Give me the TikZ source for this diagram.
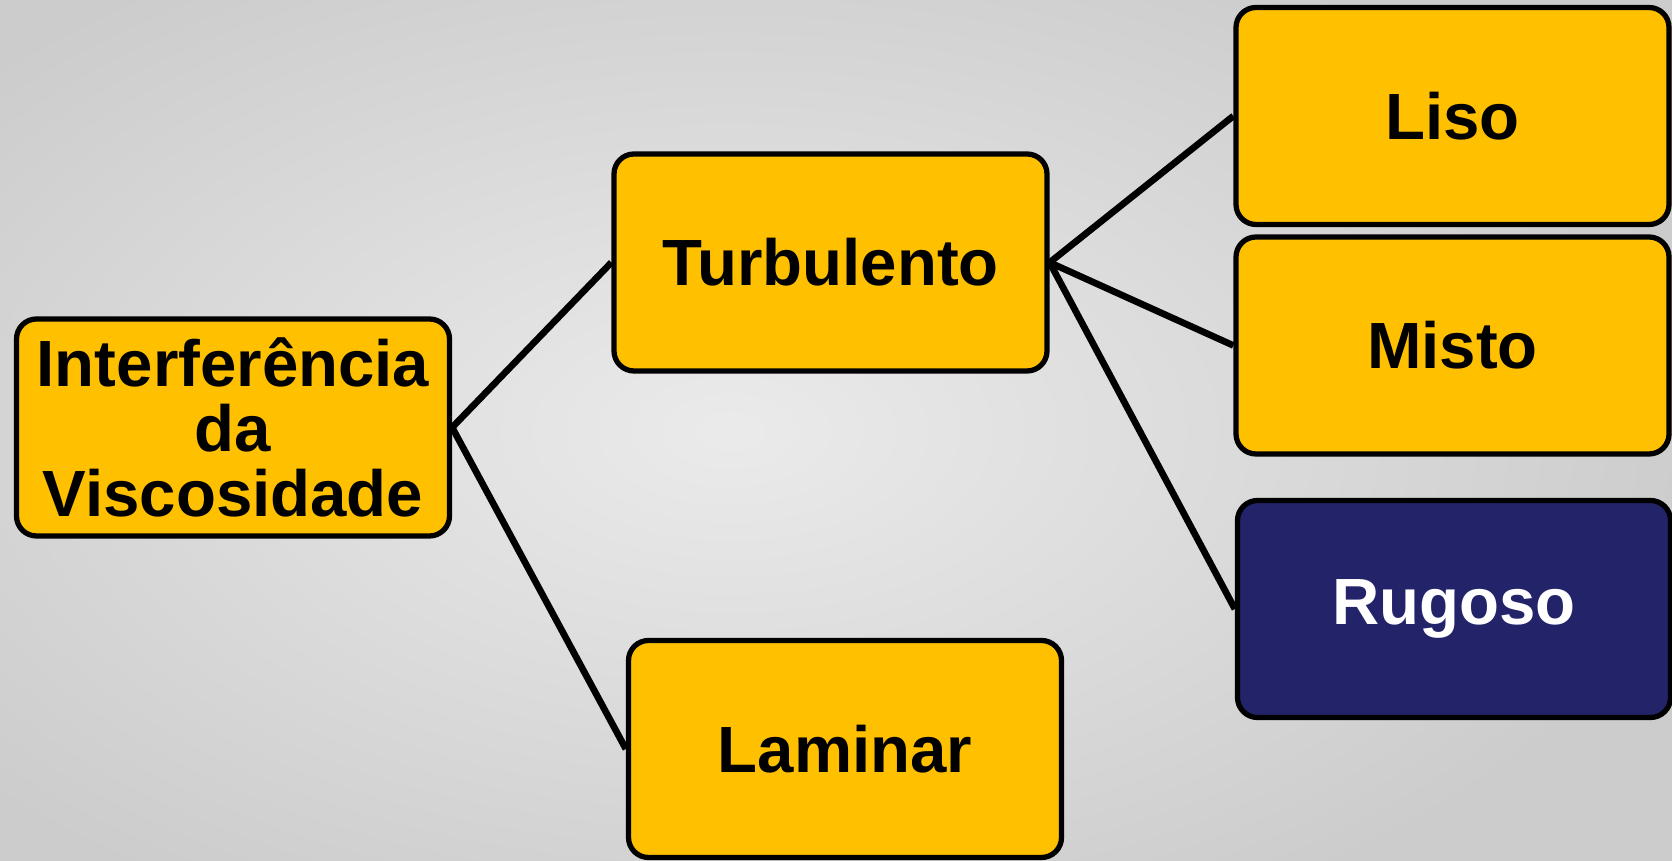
\documentclass[tikz,border=0pt]{standalone}
\usepackage{fontspec}
\setmainfont{Liberation Sans}
\definecolor{amarelo}{HTML}{FFC000}
\definecolor{azulescuro}{HTML}{23236A}

\begin{document}
\begin{tikzpicture}[
	caixa/.style={draw=black, line width=1.5pt, rounded corners=0.2cm, fill=amarelo,
		text=black, font=\fontsize{18.6}{18.6}\selectfont\bfseries, align=center,
		minimum width=4.33cm, minimum height=2.17cm, inner sep=0pt},
	ligacao/.style={line width=1.9pt, black}
	]
	% Fundo cinza com degradê
	\useasboundingbox (0,0) rectangle (16.72,8.61);
	\begin{scope}
		\clip (0,0) rectangle (16.72,8.61);
		\shade[inner color=gray!16, outer color=gray!40] (-2.6,-1.2) rectangle (17.2,9.8);
	\end{scope}
	
	% Caixas
	\node[caixa] (interf) at (2.33,4.335) {Interferência\\da\\Viscosidade};
	\node[caixa] (turb) at (8.305,5.985) {Turbulento};
	\node[caixa] (lam) at (8.45,1.12) {Laminar};
	\node[caixa] (liso) at (14.525,7.45) {Liso};
	\node[caixa] (misto) at (14.525,5.155) {Misto};
	\node[caixa, fill=azulescuro, text=white] (rug) at (14.54,2.52) {Rugoso};
	
	% Ligações
	\draw[ligacao] (interf.east) -- (turb.west);
	\draw[ligacao] (interf.east) -- (lam.west);
	\draw[ligacao] (turb.east) -- (liso.west);
	\draw[ligacao] (turb.east) -- (misto.west);
	\draw[ligacao] (turb.east) -- (rug.west);
\end{tikzpicture}
\end{document}
